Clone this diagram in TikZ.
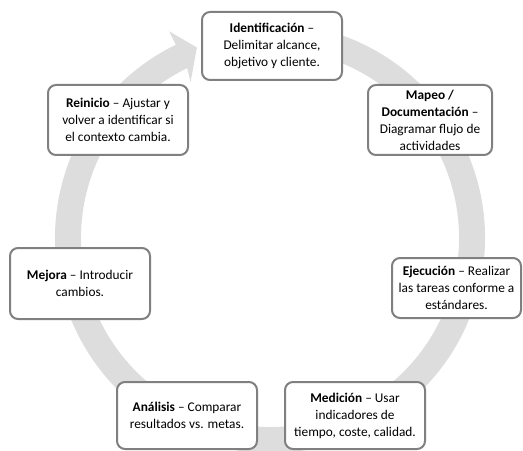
\documentclass[tikz,border=0pt]{standalone}
\usepackage{fontspec}
\setmainfont{Carlito}
\usetikzlibrary{positioning}

\begin{document}
\begin{tikzpicture}[x=0.75pt, y=0.75pt,
	paso/.style={draw=gray, line width=1.5pt, fill=white, rectangle, rounded corners=6pt, text centered, align=center, inner sep=0pt, font=\fontsize{10}{12.75}\selectfont},
	anillo/.style={fill=gray!27}]

	\useasboundingbox (0,0) rectangle (523,450);

	% Ring
	\begin{scope}[shift={(270,212)}]
		\fill [anillo] (80:215) arc[start angle=80, end angle=-244, radius=215] -- (-244:230) -- (-249:204) -- (-243:175) -- (-244:189) arc[start angle=-244, end angle=80, radius=189] -- cycle;
	\end{scope}

	% Nodes
	\node [paso, minimum width=105pt, minimum height=51pt] (identificacion) at (272,404) {\textbf{Identificación} –\\Delimitar alcance,\\objetivo y cliente.};
	\node [paso, minimum width=93pt, minimum height=52.5pt] (mapeo) at (430,330) {\textbf{Mapeo /}\\\textbf{Documentación} –\\Diagramar flujo de\\actividades};
	\node [paso, minimum width=96.75pt, minimum height=45pt] (ejecucion) at (456.5,162) {\textbf{Ejecución} – Realizar\\las tareas conforme a\\estándares.};
	\node [paso, minimum width=105pt, minimum height=50.25pt] (medicion) at (355,34.5) {\textbf{Medición} – Usar\\indicadores de\\tiempo, coste, calidad.};
	\node [paso, minimum width=105pt, minimum height=50.25pt] (analisis) at (187,34.5) {\textbf{Análisis} – Comparar\\resultados vs. metas.};
	\node [paso, minimum width=105pt, minimum height=53.25pt] (mejora) at (80,166.5) {\textbf{Mejora} – Introducir\\cambios.};
	\node [paso, minimum width=105pt, minimum height=52.5pt] (reinicio) at (118,330) {\textbf{Reinicio} – Ajustar y\\volver a identificar si\\el contexto cambia.};

\end{tikzpicture}
\end{document}
